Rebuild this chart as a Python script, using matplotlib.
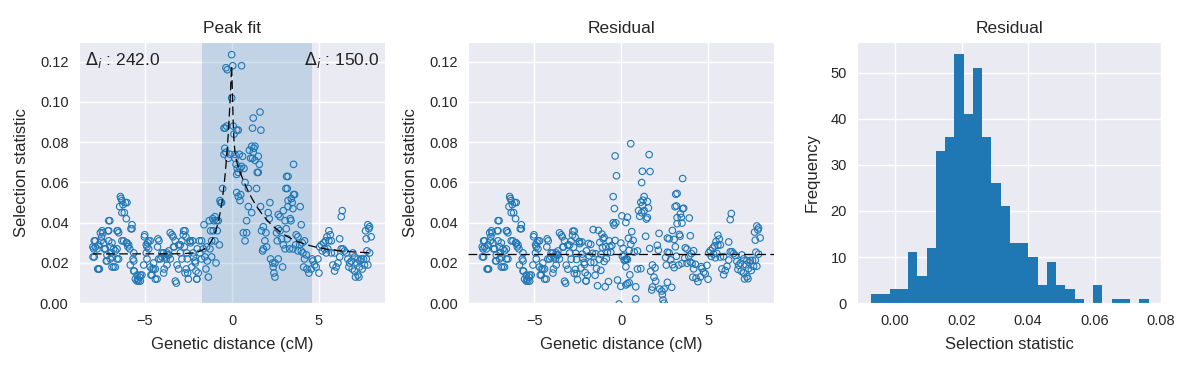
import numpy as np
import matplotlib
matplotlib.use("Agg")
import matplotlib.pyplot as plt
import seaborn as sns

sns.set_style("darkgrid")
plt.rcParams['font.family'] = ['Liberation Sans', 'DejaVu Sans']

# genetic distance (cM) and selection statistic
left_x = [-7.95, -7.92, -7.86, -7.86, -7.76, -7.67, -7.67, -7.63, -7.53, -7.47, -7.42, -7.38,
          -7.28, -7.19, -7.19, -7.09, -7.09, -7.03, -7.00, -7.00, -6.90, -6.90, -6.80, -6.80,
          -6.71, -6.61, -6.61, -6.57, -6.52, -6.52, -6.46, -6.42, -6.38, -6.33, -6.33, -6.27,
          -6.23, -6.19, -6.13, -6.08, -6.08, -6.04, -5.94, -5.88, -5.85, -5.75, -5.75, -5.69,
          -5.65, -5.62, -5.46, -5.46, -5.42, -5.37, -5.31, -5.27, -5.18, -5.08, -5.04, -5.02,
          -4.93, -4.89, -4.89, -4.79, -4.79, -4.70, -4.70, -4.66, -4.60, -4.51, -4.41, -4.31,
          -4.28, -4.26, -4.20, -4.12, -4.03, -3.93, -3.93, -3.83, -3.78, -3.74, -3.70, -3.64,
          -3.55, -3.45, -3.39, -3.36, -3.26, -3.20, -3.16, -3.07, -2.97, -2.88, -2.88, -2.78,
          -8.00, -7.92, -7.99, -7.72, -7.57, -7.50, -7.34, -7.23, -7.13, -7.09, -6.96, -6.90,
          -6.71, -6.61, -6.33, -6.04, -5.98, -5.81, -5.65, -5.65, -5.56, -5.27, -4.93, -4.85,
          -4.60, -4.51, -4.41, -4.22, -4.03, -3.90, -3.74, -3.64, -3.55, -3.32, -3.26, -3.07,
          -2.97, -2.80, -2.63, -2.55, -2.40, -2.21, -2.11, -2.02]
left_y = [0.027, 0.023, 0.031, 0.028, 0.027, 0.029, 0.017, 0.017, 0.031, 0.036, 0.035, 0.030,
          0.027, 0.024, 0.021, 0.036, 0.031, 0.041, 0.028, 0.022, 0.030, 0.023, 0.027, 0.018,
          0.018, 0.027, 0.022, 0.036, 0.035, 0.022, 0.048, 0.053, 0.052, 0.051, 0.045, 0.049,
          0.031, 0.045, 0.050, 0.042, 0.030, 0.050, 0.029, 0.027, 0.019, 0.039, 0.037, 0.022,
          0.025, 0.016, 0.014, 0.011, 0.012, 0.011, 0.013, 0.011, 0.014, 0.019, 0.033, 0.034,
          0.025, 0.028, 0.022, 0.031, 0.027, 0.031, 0.018, 0.014, 0.017, 0.020, 0.017, 0.012,
          0.028, 0.032, 0.031, 0.022, 0.023, 0.025, 0.015, 0.023, 0.022, 0.019, 0.024, 0.026,
          0.022, 0.034, 0.033, 0.028, 0.031, 0.010, 0.019, 0.017, 0.025, 0.031, 0.022, 0.036,
          0.028, 0.031, 0.023, 0.017, 0.035, 0.033, 0.027, 0.021, 0.036, 0.041, 0.025, 0.018,
          0.026, 0.036, 0.031, 0.030, 0.028, 0.037, 0.021, 0.016, 0.012, 0.014, 0.029, 0.030,
          0.014, 0.017, 0.012, 0.022, 0.025, 0.017, 0.025, 0.024, 0.035, 0.028, 0.011, 0.029,
          0.029, 0.034, 0.017, 0.015, 0.031, 0.023, 0.020, 0.012]

peak_x = [-2.70, -2.65, -2.74, -2.61, -2.57, -2.70, -2.51, -2.42, -2.38, -2.26, -2.23, -2.32,
          -2.13, -2.07, -2.03, -1.94, -2.00, -1.88, -1.84, -1.75, -1.75,
          -1.65, -1.61, -1.56, -1.50, -1.46, -1.42, -1.36, -1.31, -1.27, -1.23, -1.17, -1.17,
          -1.11, -1.08, -1.04, -0.98, -0.98, -0.92, -0.88, -0.85, -0.79, -0.73, -0.69, -0.65,
          -0.60, -0.54, -0.46, -0.41, -0.35, -0.46, -0.39, -0.31, -0.35, -0.27, -0.21, -0.12,
          -0.02, 0.04, -0.02, 0.07, 0.11, 0.17, 0.27, 0.36, 0.23, 0.27, 0.30, 0.55, 0.17,
          0.42, 0.46, 0.36, 0.55, 0.61, 0.69, 0.75, 0.27, 0.36, 0.50, 0.46, 0.94, 1.00, 1.13,
          1.26, 1.32, 1.22, 1.07, 1.18, 1.32, 1.51, 1.57, 1.45, 1.51, 1.22, 1.18, 1.61, 1.66,
          1.41, 0.94, 1.13, 0.84, 0.65, 0.84, 0.75, 1.64, 2.18, 2.08, 2.14, 1.80, 1.70, 1.95,
          1.89, 1.99, 1.80, 1.76, 2.22, 2.34, 2.47, 2.37, 2.41, 2.47, 2.66, 2.91, 2.56, 2.66,
          2.76, 2.60, 2.85, 2.95, 3.05, 2.95, 2.66, 2.76, 3.10, 3.14, 3.05]
peak_y = [0.036, 0.033, 0.028, 0.025, 0.022, 0.015, 0.012, 0.031, 0.030, 0.031, 0.025, 0.018,
          0.021, 0.016, 0.012, 0.015, 0.027, 0.031, 0.025, 0.031, 0.022,
          0.027, 0.039, 0.023, 0.017, 0.028, 0.021, 0.013, 0.041, 0.027, 0.036, 0.031, 0.023,
          0.042, 0.036, 0.041, 0.043, 0.031, 0.020, 0.041, 0.036, 0.041, 0.029, 0.051, 0.050,
          0.050, 0.057, 0.074, 0.077, 0.075, 0.087, 0.087, 0.088, 0.117, 0.116, 0.072, 0.074,
          0.1235, 0.118, 0.102, 0.088, 0.084, 0.072, 0.086, 0.086, 0.069, 0.064, 0.067, 0.118, 0.074,
          0.074, 0.067, 0.065, 0.068, 0.073, 0.067, 0.060, 0.055, 0.053, 0.054, 0.051, 0.057,
          0.076, 0.078, 0.077, 0.078, 0.075, 0.072, 0.072, 0.071, 0.073, 0.069, 0.065, 0.065,
          0.092, 0.087, 0.095, 0.086, 0.057, 0.048, 0.045, 0.041, 0.035, 0.035, 0.031, 0.048,
          0.050, 0.045, 0.042, 0.038, 0.036, 0.035, 0.031, 0.028, 0.027, 0.026, 0.022, 0.020,
          0.020, 0.018, 0.015, 0.013, 0.022, 0.018, 0.035, 0.037, 0.036, 0.031, 0.032, 0.029,
          0.027, 0.046, 0.044, 0.043, 0.057, 0.063, 0.041]

right_x = [3.54, 3.22, 3.18, 3.22, 3.41, 3.54, 3.60, 3.46, 3.50, 3.22, 3.92, 3.35, 3.39, 3.98,
           3.12, 3.69, 3.79, 3.18, 4.17, 3.31, 3.50, 3.66, 3.89, 4.04, 3.79, 3.98, 4.08, 4.27,
           4.17, 4.12, 4.31, 4.42, 4.56, 4.61, 4.65, 4.75, 4.84, 5.00, 4.94, 5.04, 5.13, 5.19,
           5.27, 5.32, 5.38, 5.46, 5.57, 5.65, 5.57, 5.71, 5.51, 5.71, 5.42, 6.19, 5.90, 5.80,
           5.90, 5.99, 6.09, 6.19, 6.28, 6.38, 6.47, 6.34, 6.28, 6.57, 6.66, 6.72, 6.76, 6.86,
           6.95, 6.91, 7.05, 7.10, 7.18, 7.24, 7.30, 7.33, 7.43, 7.49, 7.56, 7.62, 7.72, 7.81,
           7.76, 7.91, 7.68, 7.81, 7.91, 7.87, 7.72, 8.00, 7.05, 7.24, 7.37]
right_y = [0.069, 0.063, 0.057, 0.051, 0.052, 0.054, 0.054, 0.050, 0.047, 0.048, 0.048, 0.042,
           0.041, 0.039, 0.037, 0.034, 0.033, 0.032, 0.031, 0.027, 0.027, 0.029, 0.029, 0.030,
           0.026, 0.026, 0.025, 0.024, 0.022, 0.018, 0.017, 0.015, 0.017, 0.022, 0.021, 0.019,
           0.018, 0.015, 0.022, 0.028, 0.029, 0.026, 0.030, 0.027, 0.031, 0.033, 0.036, 0.034,
           0.031, 0.031, 0.027, 0.025, 0.025, 0.032, 0.025, 0.019, 0.016, 0.018, 0.020, 0.023,
           0.027, 0.027, 0.026, 0.046, 0.043, 0.025, 0.022, 0.018, 0.020, 0.021, 0.025, 0.017,
           0.016, 0.013, 0.020, 0.014, 0.013, 0.018, 0.022, 0.017, 0.022, 0.019, 0.022, 0.019,
           0.026, 0.025, 0.036, 0.039, 0.038, 0.037, 0.032, 0.033, 0.023, 0.022, 0.021]

# fitted peak model: baseline plus exponential decays on each side
baseline = 0.0245
amp_left, rate_left = 0.098, 2.3
amp_sharp, rate_sharp = 0.045, 17.0
amp_right, rate_right = 0.053, 0.57
delta_left, delta_right = 242.0, 150.0
span_lo, span_hi = -1.7, 4.6

# histogram of residuals (counts)
hist_lo, hist_hi = -0.0072, 0.0762
hist_counts = [2, 2, 3, 3, 11, 6, 12, 33, 36, 54, 41, 51, 36, 26, 21,
               13, 13, 10, 4, 9, 4, 3, 1, 0, 4, 0, 1, 1, 0, 1]


def peak_model(x):
    x = np.asarray(x)
    left = amp_left * np.exp(-rate_left * np.abs(x))
    right = amp_sharp * np.exp(-rate_sharp * x) + amp_right * np.exp(-rate_right * x)
    return baseline + np.where(x < 0, left, right)


x = np.array(left_x + peak_x + right_x)
y = np.array(left_y + peak_y + right_y)
order = np.argsort(x)
x, y = x[order], y[order]
fit = peak_model(x)
resid = y - fit + baseline

blue = '#1f77b4'
fig = plt.figure(figsize=(11.91, 3.68), dpi=100)
ax1 = fig.add_axes([0.0663, 0.176, 0.257, 0.711])
ax2 = fig.add_axes([0.3932, 0.176, 0.2567, 0.711])
ax3 = fig.add_axes([0.7198, 0.176, 0.2562, 0.711])

for ax in (ax1, ax2, ax3):
    ax.tick_params(labelsize=10.5, pad=4)
    ax.grid(color='white', linewidth=1.0)

# peak fit
ax1.axvspan(span_lo, span_hi, color=blue, alpha=0.2, lw=0)
ax1.scatter(x, y, s=22, facecolors='none', edgecolors=blue, linewidths=0.8, zorder=3)
ax1.plot(x, fit, color='black', ls=(0, (7, 3.5)), lw=0.9, zorder=4)
ax1.set_ylim(0, 0.13)
ax1.set_yticks(np.arange(0, 0.121, 0.02))
ax1.set_xlabel('Genetic distance (cM)', fontsize=12, labelpad=7)
ax1.set_ylabel('Selection statistic', fontsize=12, labelpad=8)
ax1.set_title('Peak fit', fontsize=12.5)
ax1.text(0.02, 0.93, r'$\Delta_i$ : %.1f' % delta_left, transform=ax1.transAxes,
         fontsize=12.5, ha='left', va='center', color='#222222')
ax1.text(0.98, 0.93, r'$\Delta_i$ : %.1f' % delta_right, transform=ax1.transAxes,
         fontsize=12.5, ha='right', va='center', color='#222222')

# residual scatter
ax2.scatter(x, resid, s=22, facecolors='none', edgecolors=blue, linewidths=0.8, zorder=3)
ax2.axhline(baseline, color='black', ls=(0, (7, 3.5)), lw=0.9, zorder=4)
ax2.set_xlim(ax1.get_xlim())
ax2.set_ylim(0, 0.13)
ax2.set_yticks(np.arange(0, 0.121, 0.02))
ax2.set_xlabel('Genetic distance (cM)', fontsize=12, labelpad=7)
ax2.set_ylabel('Selection statistic', fontsize=12, labelpad=8)
ax2.set_title('Residual', fontsize=12.5)

# residual histogram
edges = np.linspace(hist_lo, hist_hi, len(hist_counts) + 1)
ax3.bar(edges[:-1], hist_counts, width=np.diff(edges), align='edge', color=blue, lw=0)
ax3.set_xticks([0.0, 0.02, 0.04, 0.06, 0.08])
ax3.set_xlabel('Selection statistic', fontsize=12, labelpad=7)
ax3.set_ylabel('Frequency', fontsize=12, labelpad=8)
ax3.set_title('Residual', fontsize=12.5)

fig.savefig('out.png', dpi=100)
